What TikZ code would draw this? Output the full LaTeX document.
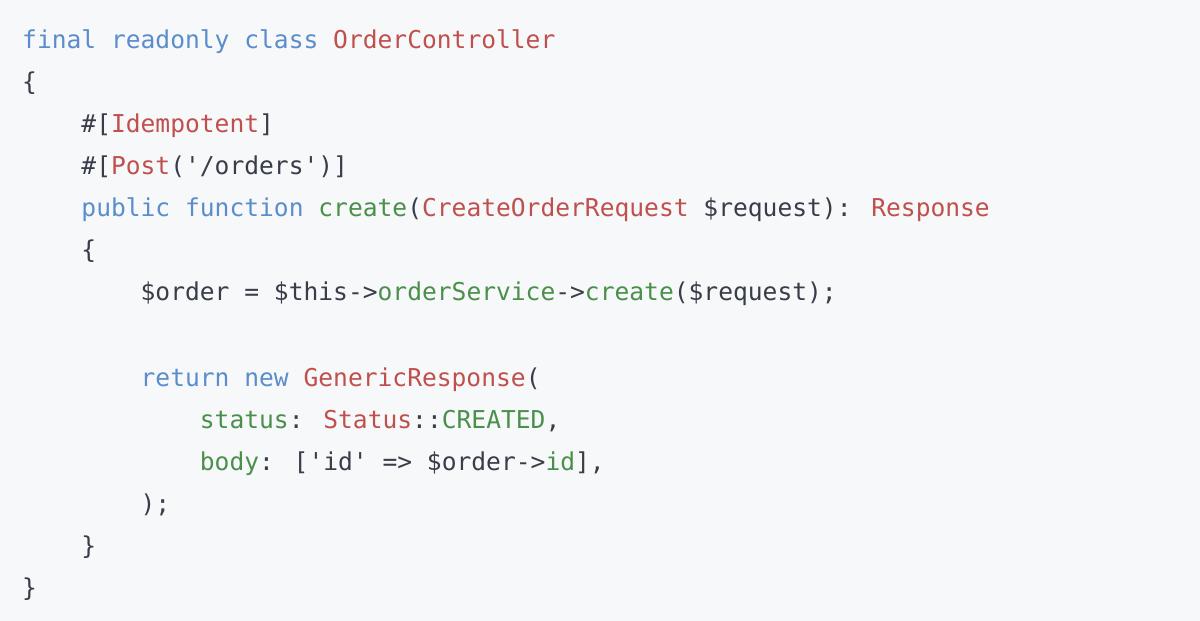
\documentclass[tikz,border=0pt]{standalone}
\usepackage{fontspec}
\newfontfamily\codefont{DejaVu Sans Mono}
\usepackage{tikz}
\definecolor{codebg}{HTML}{F7F8FA}
\definecolor{codetxt}{HTML}{383D48}
\definecolor{kwblue}{HTML}{5B8CCC}
\definecolor{tyred}{HTML}{C0504D}
\definecolor{fngreen}{HTML}{4A8F4A}
\newcommand{\kw}[1]{\textcolor{kwblue}{#1}}
\newcommand{\ty}[1]{\textcolor{tyred}{#1}}
\newcommand{\fn}[1]{\textcolor{fngreen}{#1}}
\newcommand{\q}{\textquotesingle}
\newcommand{\ind}[1]{\phantom{#1}}

\begin{document}
\begin{tikzpicture}[x=1pt,y=-1pt]
    \tikzstyle{every node}=[font=\codefont\fontsize{24.6}{28}\selectfont, text=codetxt, anchor=base west, inner sep=0pt]
    \fill[codebg] (0,0) rectangle (1200,621);
    \node (l1) at (22,48)   {\kw{final readonly class} \ty{OrderController}};
    \node (l2) at (22,90)   {\{};
    \node (l3) at (22,132)  {\ind{xxxx}\#[\ty{Idempotent}]};
    \node (l4) at (22,174)  {\ind{xxxx}\#[\ty{Post}(\q/orders\q)]};
    \node (l5) at (22,216)  {\ind{xxxx}\kw{public function} \fn{create}(\ty{CreateOrderRequest} \$request): \ty{Response}};
    \node (l6) at (22,258)  {\ind{xxxx}\{};
    \node (l7) at (22,300)  {\ind{xxxxxxxx}\$order = \$this->\fn{orderService}->\fn{create}(\$request);};
    \node (l9) at (22,386)  {\ind{xxxxxxxx}\kw{return new} \ty{GenericResponse}(};
    \node (l10) at (22,428) {\ind{xxxxxxxxxxxx}\fn{status}: \ty{Status}::\fn{CREATED},};
    \node (l11) at (22,470) {\ind{xxxxxxxxxxxx}\fn{body}: [\q id\q{} => \$order->\fn{id}],};
    \node (l12) at (22,512) {\ind{xxxxxxxx});};
    \node (l13) at (22,554) {\ind{xxxx}\}};
    \node (l14) at (22,596) {\}};
\end{tikzpicture}
\end{document}
